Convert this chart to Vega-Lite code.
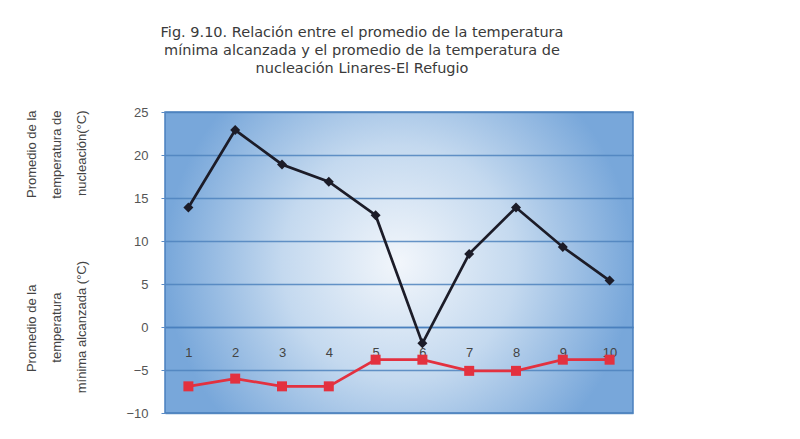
{
  "$schema": "https://vega.github.io/schema/vega-lite/v6.json",
  "width": 468,
  "height": 301,
  "autosize": {"type": "none"},
  "padding": {"left": 165, "top": 112, "right": 167, "bottom": 26},
  "background": "white",
  "title": {
    "text": [
      "Fig. 9.10. Relación entre el promedio de la temperatura",
      "mínima alcanzada y el promedio de la temperatura de",
      "nucleación Linares-El Refugio"
    ],
    "font": "DejaVu Sans",
    "fontSize": 14.5,
    "fontWeight": "normal",
    "color": "#3a3a3a",
    "lineHeight": 18,
    "offset": 30,
    "dx": -37,
    "anchor": "middle"
  },
  "config": {
    "view": {
      "fill": {
        "gradient": "radial",
        "stops": [
          {"offset": 0, "color": "#f2f6fb"},
          {"offset": 0.5, "color": "#c4d9ef"},
          {"offset": 1, "color": "#78a7da"}
        ]
      },
      "stroke": "#4a80be",
      "strokeWidth": 1.5
    }
  },
  "data": {
    "values": [
      {"punto": 1, "serie": "Nucleación", "valor": 13.9},
      {"punto": 2, "serie": "Nucleación", "valor": 22.9},
      {"punto": 3, "serie": "Nucleación", "valor": 18.9},
      {"punto": 4, "serie": "Nucleación", "valor": 16.9},
      {"punto": 5, "serie": "Nucleación", "valor": 13.0},
      {"punto": 6, "serie": "Nucleación", "valor": -1.9},
      {"punto": 7, "serie": "Nucleación", "valor": 8.5},
      {"punto": 8, "serie": "Nucleación", "valor": 13.9},
      {"punto": 9, "serie": "Nucleación", "valor": 9.3},
      {"punto": 10, "serie": "Nucleación", "valor": 5.4},
      {"punto": 1, "serie": "Mínima", "valor": -6.9},
      {"punto": 2, "serie": "Mínima", "valor": -6.0},
      {"punto": 3, "serie": "Mínima", "valor": -6.9},
      {"punto": 4, "serie": "Mínima", "valor": -6.9},
      {"punto": 5, "serie": "Mínima", "valor": -3.8},
      {"punto": 6, "serie": "Mínima", "valor": -3.8},
      {"punto": 7, "serie": "Mínima", "valor": -5.1},
      {"punto": 8, "serie": "Mínima", "valor": -5.1},
      {"punto": 9, "serie": "Mínima", "valor": -3.8},
      {"punto": 10, "serie": "Mínima", "valor": -3.8}
    ]
  },
  "encoding": {
    "x": {
      "field": "punto",
      "type": "ordinal",
      "axis": {
        "title": null,
        "labelAngle": 0,
        "offset": -86,
        "labelPadding": 19,
        "ticks": false,
        "domainColor": "#4a80be",
        "domainWidth": 1.5,
        "labelFont": "Liberation Sans",
        "labelFontSize": 13,
        "labelColor": "#444444"
      }
    },
    "y": {
      "field": "valor",
      "type": "quantitative",
      "scale": {"domain": [-10, 25], "nice": false, "zero": false},
      "axis": {
        "values": [-10, -5, 0, 5, 10, 15, 20, 25],
        "title": [
          "Promedio de la\u00a0\u00a0\u00a0\u00a0\u00a0\u00a0\u00a0\u00a0\u00a0\u00a0\u00a0\u00a0\u00a0\u00a0\u00a0\u00a0\u00a0\u00a0\u00a0\u00a0\u00a0\u00a0\u00a0\u00a0Promedio de la",
          "temperatura\u00a0\u00a0\u00a0\u00a0\u00a0\u00a0\u00a0\u00a0\u00a0\u00a0\u00a0\u00a0\u00a0\u00a0\u00a0\u00a0\u00a0\u00a0\u00a0\u00a0\u00a0\u00a0\u00a0\u00a0\u00a0\u00a0temperatura de",
          "mínima alcanzada (°C)\u00a0\u00a0\u00a0\u00a0\u00a0\u00a0\u00a0\u00a0\u00a0\u00a0\u00a0\u00a0\u00a0\u00a0\u00a0\u00a0\u00a0\u00a0nucleación(°C)"
        ],
        "titleFont": "Liberation Sans",
        "titleFontSize": 13,
        "titleFontWeight": "normal",
        "titleColor": "#444444",
        "titleAngle": 270,
        "titleAlign": "right",
        "titleBaseline": "top",
        "titleX": -140,
        "titleY": -2,
        "titleLineHeight": 25,
        "labelFont": "Liberation Sans",
        "labelFontSize": 13,
        "labelColor": "#555555",
        "labelPadding": 13,
        "tickSize": 4,
        "tickColor": "#5a8ac4",
        "domain": false,
        "gridColor": "#4d82bd",
        "gridWidth": 1.5,
        "gridOpacity": 0.85
      }
    },
    "color": {
      "field": "serie",
      "type": "nominal",
      "scale": {"domain": ["Nucleación", "Mínima"], "range": ["#1c1c28", "#e3313f"]},
      "legend": null
    }
  },
  "layer": [
    {"mark": {"type": "line", "strokeWidth": 2.7}},
    {
      "mark": {"type": "point", "filled": true, "opacity": 1, "size": 100},
      "encoding": {
        "shape": {
          "field": "serie",
          "type": "nominal",
          "scale": {"domain": ["Nucleación", "Mínima"], "range": ["diamond", "square"]},
          "legend": null
        }
      }
    }
  ]
}
